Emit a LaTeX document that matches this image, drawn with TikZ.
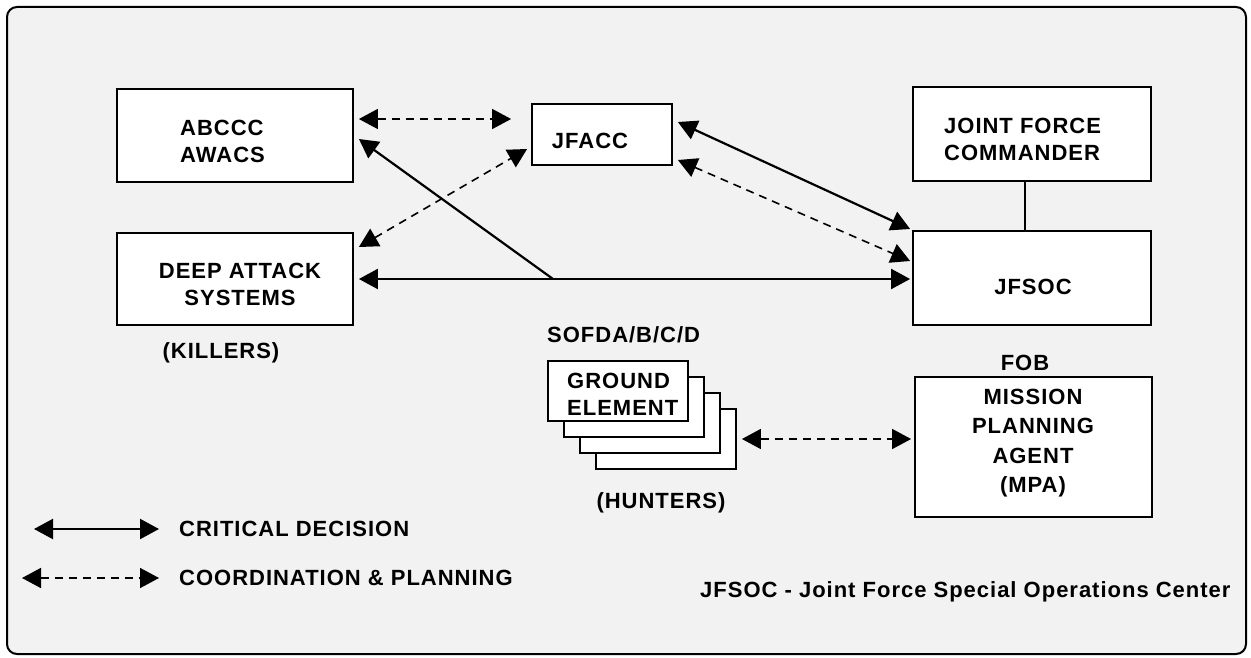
\documentclass[tikz,border=0pt]{standalone}
\usepackage{fontspec}
\setmainfont{Liberation Sans}[LetterSpace=4.5]
\usetikzlibrary{arrows.meta}
\definecolor{bggray}{HTML}{F2F2F2}
\begin{document}
\begin{tikzpicture}[x=1pt,y=-1pt,
  box/.style={draw, line width=1.8pt, fill=white, inner sep=0pt},
  txt/.style={font=\fontsize{22}{27}\selectfont\bfseries, inner sep=0pt},
  crit/.style={line width=2.2pt, arrows={Triangle[length=19pt,width=20pt]-Triangle[length=19pt,width=20pt]}},
  critone/.style={line width=2.2pt, arrows={-Triangle[length=19pt,width=20pt]}},
  plan/.style={line width=1.6pt, dash pattern=on 8pt off 6pt, arrows={Triangle[length=19pt,width=20pt]-Triangle[length=19pt,width=20pt]}},
  link/.style={line width=1.6pt}]
\useasboundingbox (0,0) rectangle (1251,658);
\fill[white] (0,0) rectangle (1251,658);
\draw[line width=2pt, fill=bggray, rounded corners=10pt] (7,7) rectangle (1246,654);

% boxes
\node[box, minimum width=236pt, minimum height=93pt] (abccc) at (235,135.5) {};
\node[box, minimum width=140pt, minimum height=61pt] (jfacc) at (602,134.5) {};
\node[box, minimum width=236pt, minimum height=92pt] (deep) at (235,279) {};
\node[box, minimum width=238pt, minimum height=94pt] (jfc) at (1032,134) {};
\node[box, minimum width=238pt, minimum height=94pt] (jfsoc) at (1032,278) {};
\node[box, minimum width=237pt, minimum height=140pt] (mpa) at (1033.5,447) {};
\node[box, minimum width=140pt, minimum height=60pt] (g4) at (666,439) {};
\node[box, minimum width=140pt, minimum height=60pt] (g3) at (650,423) {};
\node[box, minimum width=140pt, minimum height=60pt] (g2) at (634,407) {};
\node[box, minimum width=140pt, minimum height=60pt] (g1) at (618,391) {};

% texts
\node[txt, anchor=west, align=left] (tabccc) at (180,141.5) {ABCCC\\AWACS};
\node[txt] (tjfacc) at (590,140.5) {JFACC};
\node[txt, align=center] (tdeep) at (240,284.5) {DEEP ATTACK\\SYSTEMS};
\node[txt, anchor=west, align=left] (tjfc) at (944,139) {JOINT FORCE\\COMMANDER};
\node[txt] (tjfsoc) at (1033,287) {JFSOC};
\node[txt, anchor=west, align=left] (tground) at (567,394) {GROUND\\ELEMENT};
\node[txt, anchor=west] (tsofda) at (547,335) {SOFDA/B/C/D};
\node[txt] (tkillers) at (221,353) {(KILLERS)};
\node[txt] (thunters) at (661,503) {(HUNTERS)};
\node[txt] (tfob) at (1025,363) {FOB};
\node[txt, align=center, font=\fontsize{22}{29.3}\selectfont\bfseries] (tmpa) at (1033,443) {MISSION\\PLANNING\\AGENT\\(MPA)};
\node[txt, anchor=west] (tcrit) at (179,529) {CRITICAL DECISION};
\node[txt, anchor=west] (tplan) at (179,578) {COORDINATION \& PLANNING};
\node[txt, anchor=west] (tfoot) at (700,592) {JFSOC - Joint Force Special Operations Center};

% connectors
\coordinate (junc) at (553,279);
\draw[plan] ([shift={(5,-16.5)}]abccc.east) -- ([shift={(-20,-15.5)}]jfacc.west);
\draw[critone] (junc) -- ([shift={(5,3.5)}]abccc.east);
\draw[plan] ([shift={(5,-32)}]deep.east) -- ([shift={(-4,14.5)}]jfacc.west);
\draw[crit] ([shift={(5,0)}]deep.east) -- ([shift={(-2,1)}]jfsoc.west);
\draw[crit] ([shift={(5,-12.5)}]jfacc.east) -- ([shift={(-2,-49)}]jfsoc.west);
\draw[plan] ([shift={(5,25.5)}]jfacc.east) -- ([shift={(-2,-17)}]jfsoc.west);
\draw[link] ([xshift=-7pt]jfc.south) -- ([xshift=-7pt]jfsoc.north);
\draw[plan] ([shift={(5,0)}]g4.east) -- ([shift={(-3,-8)}]mpa.west);

% legend
\coordinate (l1a) at (34,529);
\coordinate (l1b) at (159,529);
\coordinate (l2a) at (22,578);
\coordinate (l2b) at (159,578);
\draw[crit] (l1a) -- (l1b);
\draw[plan] (l2a) -- (l2b);
\end{tikzpicture}
\end{document}
